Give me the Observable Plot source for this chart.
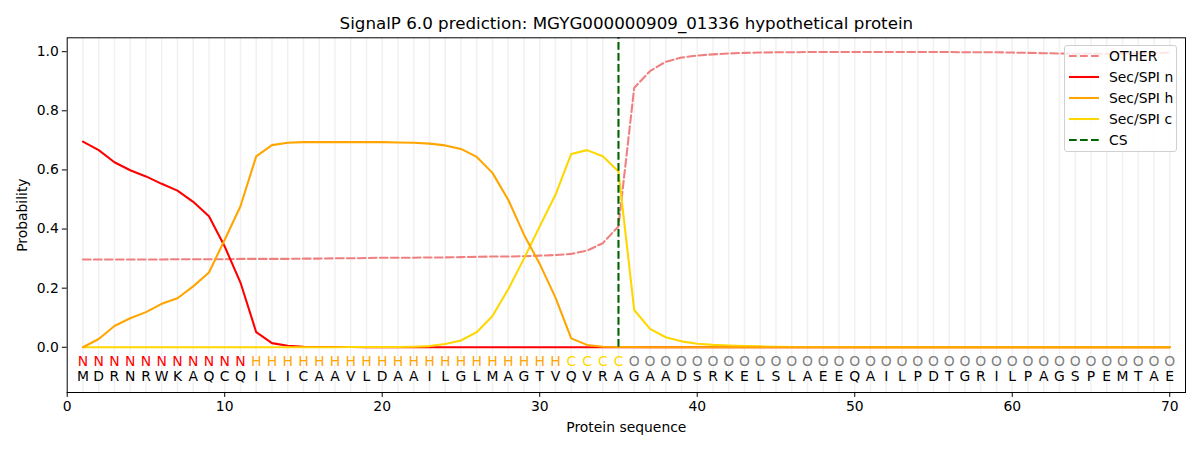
<!DOCTYPE html>
<html>
<head>
<meta charset="utf-8">
<script src="https://cdn.jsdelivr.net/npm/d3@7"></script>
<script src="https://cdn.jsdelivr.net/npm/@observablehq/plot@0.6"></script>
<style>
  html, body { margin: 0; padding: 0; background: #fff; }
  #wrap { position: relative; width: 1200px; height: 450px; font-family: "DejaVu Sans", sans-serif; }
  #legend { position: absolute; left: 1064px; top: 44.7px; width: 113px; height: 107px;
    border: 1px solid #d0d0d0; border-radius: 3px; background: rgba(255,255,255,0.8); box-sizing: border-box; }
  .row { position: absolute; left: 0; height: 21px; display: flex; align-items: center; font-size: 13.9px; color: #000; }
  .row svg { margin-left: 4px; margin-right: 10px; }
</style>
</head>
<body>
<div id="wrap"></div>
<script>
const title = "SignalP 6.0 prediction: MGYG000000909_01336 hypothetical protein";
const residues = "MDRNRWKAQCQILICAAVLDAAILGLMAGTVQVRAGAADSRKELSLAEEQAILPDTGRILPAGSPEMTAE".split("");
const regions = "NNNNNNNNNNNHHHHHHHHHHHHHHHHHHHHCCCCOOOOOOOOOOOOOOOOOOOOOOOOOOOOOOOOOOO".split("");
const xTicks = [0, 10, 20, 30, 40, 50, 60, 70];
const yTicks = [0, 0.2, 0.4, 0.6, 0.8, 1.0];
const cleavageSite = 35;

const other = [
  0.297,0.297,0.297,0.297,0.297,0.297,0.298,0.298,0.298,0.298,
  0.299,0.299,0.299,0.299,0.300,0.300,0.301,0.301,0.302,0.303,
  0.303,0.303,0.304,0.304,0.305,0.306,0.307,0.307,0.308,0.310,
  0.312,0.316,0.327,0.352,0.409,0.878,0.934,0.966,0.980,0.987,
  0.991,0.994,0.996,0.997,0.998,0.998,0.999,0.999,0.999,0.999,
  0.999,0.999,0.999,0.999,0.999,0.999,0.998,0.998,0.998,0.997,
  0.996,0.995,0.994,0.993,0.993,0.993,0.993,0.994,0.995,0.997
];
const secN = [
  0.696,0.667,0.626,0.599,0.578,0.553,0.530,0.492,0.443,0.341,
  0.219,0.051,0.014,0.005,0.002,0.001,0.001,0.001,0,0,
  0,0,0,0,0,0,0,0,0,0,
  0,0,0,0,0,0,0,0,0,0,
  0,0,0,0,0,0,0,0,0,0,
  0,0,0,0,0,0,0,0,0,0,
  0,0,0,0,0,0,0,0,0,0
];
const secH = [
  0,0.028,0.072,0.098,0.119,0.147,0.166,0.206,0.253,0.364,
  0.477,0.646,0.684,0.692,0.694,0.694,0.694,0.694,0.694,0.694,
  0.693,0.692,0.689,0.683,0.671,0.644,0.590,0.499,0.381,0.282,
  0.168,0.030,0.008,0.002,0.001,0.001,0,0,0,0,
  0,0,0,0,0,0,0,0,0,0,
  0,0,0,0,0,0,0,0,0,0,
  0,0,0,0,0,0,0,0,0,0
];
const secC = [
  0,0,0,0,0,0,0,0,0,0,
  0,0,0,0,0,0,0,0.001,0.001,0.001,
  0.001,0.002,0.004,0.011,0.023,0.051,0.106,0.196,0.300,0.409,
  0.516,0.654,0.667,0.646,0.595,0.126,0.062,0.034,0.020,0.012,
  0.008,0.006,0.004,0.003,0.002,0.001,0.001,0.001,0.001,0.001,
  0,0,0,0,0,0,0,0,0,0,
  0,0,0,0,0,0,0,0,0,0
];

const DASH = "7.7,3.3";
const seriesDefs = [
  {name: "OTHER", values: other, color: "#F08080", dash: DASH},
  {name: "Sec/SPI n", values: secN, color: "#FF0000", dash: null},
  {name: "Sec/SPI h", values: secH, color: "#FFA500", dash: null},
  {name: "Sec/SPI c", values: secC, color: "#FFD700", dash: null}
];
const drawOrder = [0, 1, 3, 2];
const regionColor = {N: "#FF0000", H: "#FFA500", C: "#FFD700", O: "#808080"};

const seq = residues.map((r, i) => ({pos: i + 1, res: r, reg: regions[i]}));

const lineMarks = drawOrder.map(k => seriesDefs[k]).map(s =>
  Plot.line(s.values.map((v, i) => ({pos: i + 1, p: v})), {
    x: "pos", y: "p", stroke: s.color, strokeWidth: 2.08,
    strokeDasharray: s.dash ?? undefined, curve: "linear"
  })
);

const chart = Plot.plot({
  width: 1200,
  height: 450,
  marginLeft: 66.7,
  marginRight: 15,
  marginTop: 37.3,
  marginBottom: 58,
  style: {fontFamily: "DejaVu Sans, sans-serif", fontSize: "13.9px", color: "#000", background: "#fff"},
  x: {domain: [0, 71]},
  y: {domain: [-0.153, 1.047]},
  marks: [
    Plot.ruleX(seq, {x: "pos", stroke: "#000", strokeOpacity: 0.06, strokeWidth: 1.5}),
    ...lineMarks,
    Plot.ruleX([cleavageSite], {y1: 0, y2: 1.047, stroke: "#006400", strokeWidth: 2.08, strokeDasharray: DASH}),
    Plot.text(seq, {x: "pos", y: () => -0.047, text: "reg", fill: d => regionColor[d.reg], fontSize: 13.9}),
    Plot.text(seq, {x: "pos", y: () => -0.098, text: "res", fill: "#000", fontSize: 13.9}),
    Plot.frame({stroke: "#000", strokeWidth: 1}),
    Plot.axisX({ticks: xTicks, tickSize: 4.9, tickPadding: 3.5, label: null, tickFormat: d3.format("d")}),
    Plot.axisY({ticks: yTicks, tickSize: 4.9, tickPadding: 3.5, label: null, tickFormat: d3.format(".1f")}),
    Plot.text([title], {frameAnchor: "top", lineAnchor: "middle", dy: -14, fontSize: 16.7, text: d => d}),
    Plot.text(["Protein sequence"], {frameAnchor: "bottom", lineAnchor: "middle", dy: 35, fontSize: 13.9, text: d => d}),
    Plot.text(["Probability"], {frameAnchor: "left", textAnchor: "middle", lineAnchor: "middle", dx: -45, rotate: -90, fontSize: 13.9, text: d => d})
  ]
});

const wrap = document.getElementById("wrap");
wrap.appendChild(chart);

const legendItems = [
  ...seriesDefs.map(s => ({name: s.name, color: s.color, dash: s.dash})),
  {name: "CS", color: "#006400", dash: DASH}
];
const legend = document.createElement("div");
legend.id = "legend";
legendItems.forEach((it, i) => {
  const row = document.createElement("div");
  row.className = "row";
  row.style.top = (0 + i * 21) + "px";
  row.innerHTML = `<svg width="30" height="4"><line x1="0" y1="2" x2="30" y2="2" stroke="${it.color}" stroke-width="2.08" ${it.dash ? `stroke-dasharray="${it.dash}"` : ""}/></svg><span>${it.name}</span>`;
  legend.appendChild(row);
});
wrap.appendChild(legend);
</script>
</body>
</html>
